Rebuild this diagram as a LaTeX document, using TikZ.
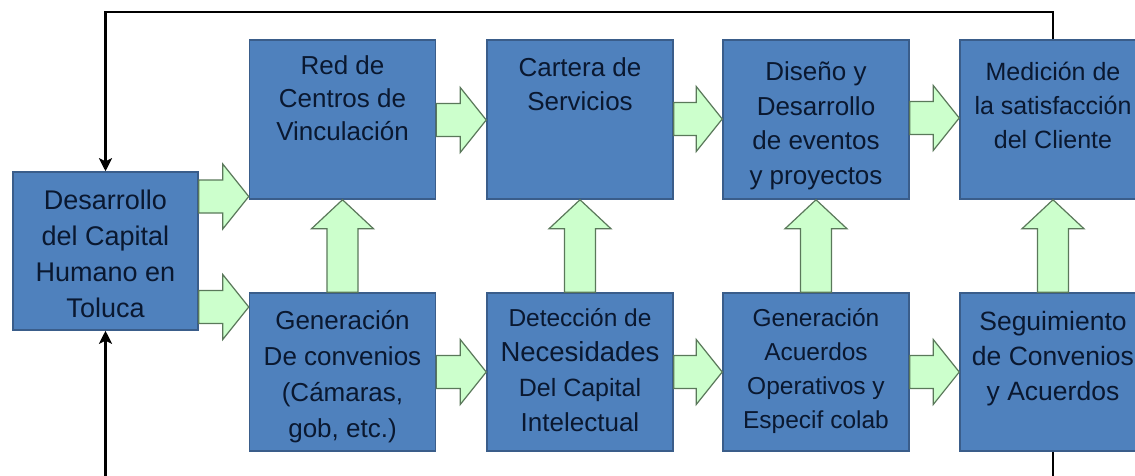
\documentclass[tikz,border=0pt]{standalone}
\usepackage{fontspec}
\setmainfont{Liberation Sans}
\usetikzlibrary{calc,arrows.meta}
\definecolor{boxblue}{HTML}{4F81BD}
\definecolor{boxedge}{HTML}{3A5D8A}
\definecolor{txtnavy}{HTML}{0A1830}
\definecolor{gfill}{HTML}{CCFFCC}
\definecolor{gedge}{HTML}{5A785A}
\newcommand\harr[3]{%
  \coordinate (hs) at (#1.east |- 0,#3);
  \coordinate (he) at (#2.west |- 0,#3);
  \draw[garrow] ($(hs)+(0,-16.5)$) -- ($(he)+(-26,-16.5)$) -- ($(he)+(-26,-32.5)$) -- (he)
     -- ($(he)+(-26,32.5)$) -- ($(he)+(-26,16.5)$) -- ($(hs)+(0,16.5)$) -- cycle;}
\newcommand\varr[2]{%
  \coordinate (vs) at (#1.north);
  \coordinate (ve) at (#2.south);
  \draw[garrow] ($(vs)+(-15.5,0)$) -- ($(ve)+(-15.5,29)$) -- ($(ve)+(-31,29)$) -- (ve)
     -- ($(ve)+(31,29)$) -- ($(ve)+(15.5,29)$) -- ($(vs)+(15.5,0)$) -- cycle;}
\begin{document}
\begin{tikzpicture}[x=1pt,y=-1pt,
  box/.style={draw=boxedge, fill=boxblue, line width=1.5pt, minimum width=186pt, minimum height=159pt, inner sep=0pt},
  lbl/.style={text=txtnavy, align=center, anchor=north, inner sep=0pt, font=\fontsize{26}{35}\selectfont},
  garrow/.style={draw=gedge, fill=gfill, line width=1.2pt, line join=miter},
  fb/.style={line width=2.5pt, line join=miter, -{Stealth[length=13pt,width=13pt,inset=3pt]}}]
\useasboundingbox (0,0) rectangle (1135,475);
\clip (0,0) rectangle (1135,475);
\fill[white] (0,0) rectangle (1135,475);
% boxes
\node[box, minimum width=185pt, minimum height=158pt] (L) at (105.5,251) {};
\node[box] (b1) at (342.5,119.5) {};
\node[box] (b2) at (580,119.5) {};
\node[box] (b3) at (816,119.5) {};
\node[box] (b4) at (1053,119.5) {};
\node[box, minimum height=158pt] (b5) at (342.5,372) {};
\node[box, minimum height=158pt] (b6) at (580,372) {};
\node[box, minimum height=158pt] (b7) at (816,372) {};
\node[box, minimum height=158pt] (b8) at (1053,372) {};
% feedback loop
\draw[fb] (b4.north) -- (b4.north |- 0,12) -- (L.north |- 0,12) -- (L.north);
\draw[fb] (b8.south) -- (b8.south |- 0,520) -- (L.south |- 0,520) -- (L.south);
% block arrows
\harr{L}{b1}{196.5}
\harr{L}{b5}{307}
\harr{b1}{b2}{120}
\harr{b2}{b3}{119}
\harr{b3}{b4}{118}
\harr{b5}{b6}{372}
\harr{b6}{b7}{372}
\harr{b7}{b8}{372}
\varr{b5}{b1}
\varr{b6}{b2}
\varr{b7}{b3}
\varr{b8}{b4}
% labels
\node[lbl, font=\fontsize{27}{36}\selectfont] (tL) at ($(L.north)+(0,13)$) {\strut Desarrollo\\del Capital\\Humano en\\Toluca};
\node[lbl, font=\fontsize{26}{33}\selectfont] (t1) at ($(b1.north)+(0,12)$) {\strut Red de\\Centros de\\Vinculación};
\node[lbl, font=\fontsize{26}{34}\selectfont] (t2) at ($(b2.north)+(0,13)$) {\strut Cartera de\\Servicios};
\node[lbl, font=\fontsize{26}{34.5}\selectfont] (t3) at ($(b3.north)+(0,17)$) {\strut Diseño y\\Desarrollo\\de eventos\\y proyectos};
\node[lbl, font=\fontsize{25}{34}\selectfont] (t4) at ($(b4.north)+(0,17)$) {\strut Medición de\\la satisfacción\\del Cliente};
\node[lbl, font=\fontsize{26}{36}\selectfont] (t5) at ($(b5.north)+(0,12)$) {\strut Generación\\De convenios\\(Cámaras,\\gob, etc.)};
\node[lbl] (t6) at ($(b6.north)+(0,10)$) {\strut {\fontsize{24.5}{35}\selectfont Detección de}\\{\fontsize{27.5}{35}\selectfont Necesidades}\\{\fontsize{25}{35}\selectfont Del Capital}\\Intelectual};
\node[lbl, font=\fontsize{24.5}{34}\selectfont] (t7) at ($(b7.north)+(0,10)$) {\strut Generación\\Acuerdos\\Operativos y\\Especif colab};
\node[lbl, font=\fontsize{26.5}{35}\selectfont] (t8) at ($(b8.north)+(0,14)$) {\strut Seguimiento\\de Convenios\\y Acuerdos};
\end{tikzpicture}
\end{document}
